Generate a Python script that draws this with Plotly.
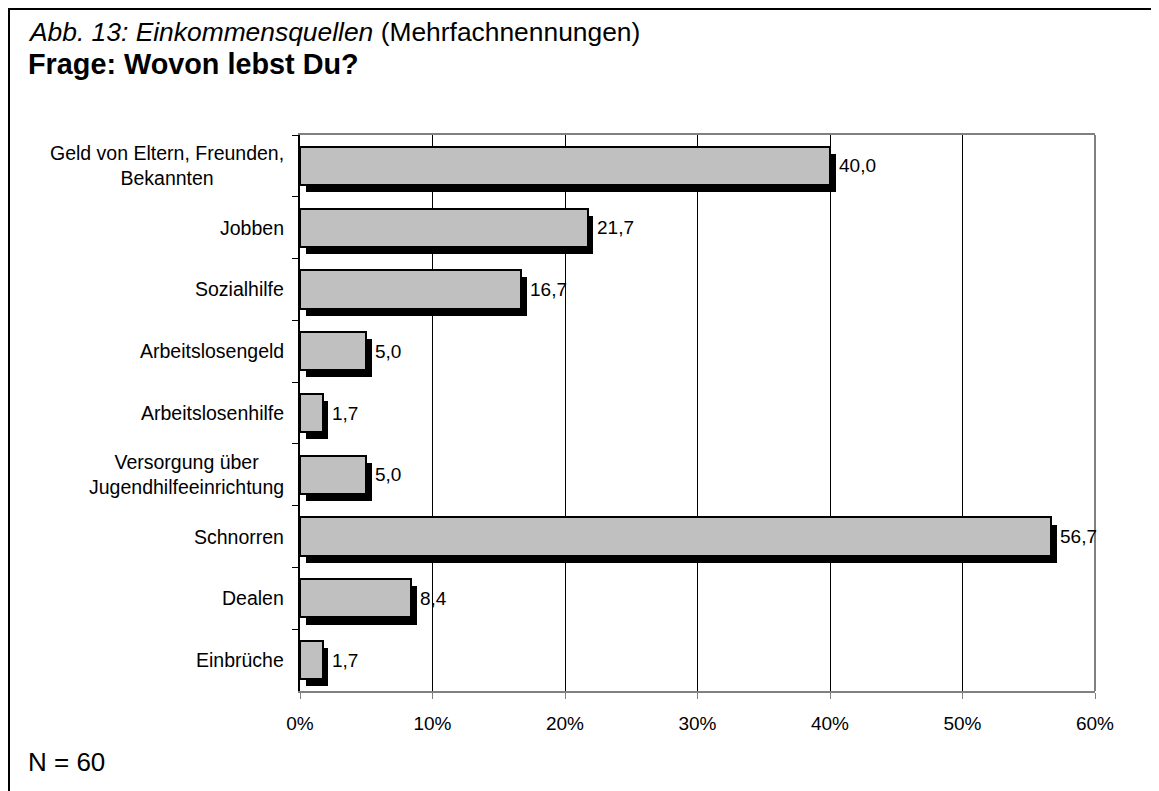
import plotly.graph_objects as go

# ---- data ----
category_keys = ["Geld", "Jobben", "Sozialhilfe", "Arbeitslosengeld", "Arbeitslosenhilfe",
                 "Versorgung", "Schnorren", "Dealen", "Einbrüche"]
category_labels = ["Geld von Eltern, Freunden,<br>Bekannten", "Jobben", "Sozialhilfe",
                   "Arbeitslosengeld", "Arbeitslosenhilfe",
                   "Versorgung über<br>Jugendhilfeeinrichtung", "Schnorren", "Dealen", "Einbrüche"]
values = [40.0, 21.7, 16.7, 5.0, 1.7, 5.0, 56.7, 8.4, 1.7]
value_labels = ["40,0", "21,7", "16,7", "5,0", "1,7", "5,0", "56,7", "8,4", "1,7"]
x_tick_values = [0, 10, 20, 30, 40, 50, 60]
x_tick_labels = ["0%", "10%", "20%", "30%", "40%", "50%", "60%"]

# ---- style ----
FONT = "Liberation Sans, Arial, sans-serif"
W, H = 1151, 783          # page body has an 8px margin
ML, MR, MT, MB = 292, 64, 127, 100
PW, PH = W - ML - MR, H - MT - MB
BAR_W = 0.62
SHADOW_DX = 0.45     # in % units (~6px)
SHADOW_DY = 0.115    # in category units (~7px)

def px_x(px):
    return (px - ML) / PW

def px_y(py):
    return (H - MB - py) / PH

fig = go.Figure()
fig.add_trace(go.Bar(
    y=category_keys, x=values, base=SHADOW_DX, orientation="h",
    width=BAR_W, offset=-BAR_W / 2 + SHADOW_DY,
    marker=dict(color="black", line=dict(width=0)),
    hoverinfo="skip", showlegend=False))
fig.add_trace(go.Bar(
    y=category_keys, x=values, orientation="h",
    width=BAR_W, offset=-BAR_W / 2,
    marker=dict(color="#C0C0C0", line=dict(color="black", width=2)),
    showlegend=False))

annotations = []
for k, lab in zip(category_keys, category_labels):
    annotations.append(dict(x=0, xref="paper", y=k, yref="y", text=lab, showarrow=False,
                            xanchor="right", xshift=-14, align="center",
                            font=dict(family=FONT, size=19.5, color="black")))
for k, v, t in zip(category_keys, values, value_labels):
    annotations.append(dict(x=v, xref="x", y=k, yref="y", text=t, showarrow=False,
                            xanchor="left", xshift=7,
                            font=dict(family=FONT, size=19, color="black")))

annotations.append(dict(x=px_x(18), xref="paper", y=px_y(24), yref="paper",
                        text="<i>Abb. 13: Einkommensquellen</i> (Mehrfachnennungen)",
                        showarrow=False, xanchor="left", yanchor="middle",
                        font=dict(family=FONT, size=26.4, color="black")))
annotations.append(dict(x=px_x(18), xref="paper", y=px_y(56), yref="paper",
                        text="<b>Frage: Wovon lebst Du?</b>",
                        showarrow=False, xanchor="left", yanchor="middle",
                        font=dict(family=FONT, size=28.8, color="black")))
annotations.append(dict(x=px_x(18), xref="paper", y=px_y(754), yref="paper",
                        text="N = 60", showarrow=False, xanchor="left", yanchor="middle",
                        font=dict(family=FONT, size=26, color="black")))

shapes = [
    # right border of plot area
    dict(type="line", xref="paper", yref="paper", x0=1, x1=1, y0=0, y1=1,
         line=dict(color="#808080", width=2), layer="above"),
    # outer frame (left and top)
    dict(type="path", xref="paper", yref="paper",
         path=f"M {px_x(1)} {px_y(800)} L {px_x(1)} {px_y(1)} L {px_x(1170)} {px_y(1)}",
         line=dict(color="black", width=2)),
]

fig.update_layout(
    width=W, height=H,
    margin=dict(l=ML, r=MR, t=MT, b=MB),
    paper_bgcolor="white", plot_bgcolor="white",
    barmode="overlay", bargap=0,
    font=dict(family=FONT, size=19, color="black"),
    annotations=annotations, shapes=shapes,
    xaxis=dict(range=[0, 60], tickvals=x_tick_values, ticktext=x_tick_labels,
               ticks="outside", ticklen=6, tickcolor="#808080", tickwidth=1,
               showline=True, linecolor="#808080", linewidth=2, mirror=True,
               showgrid=True, gridcolor="black", gridwidth=1, zeroline=False,
               tickfont=dict(family=FONT, size=19, color="black"),
               ticklabelstandoff=8, fixedrange=True),
    yaxis=dict(type="category", categoryorder="array", categoryarray=category_keys,
               range=[8.5, -0.5], showticklabels=False,
               ticks="outside", tickson="boundaries", ticklen=6, tickcolor="black",
               showline=True, linecolor="black", linewidth=2,
               showgrid=False, zeroline=False, fixedrange=True),
)

fig.write_html("out.html")
